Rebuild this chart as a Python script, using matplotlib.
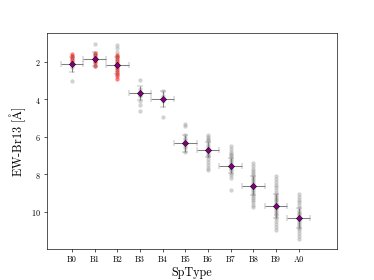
import numpy as np
import matplotlib
matplotlib.use('Agg')
import matplotlib.pyplot as plt

plt.rcParams['font.family'] = ['cmr10', 'DejaVu Serif']
plt.rcParams['mathtext.fontset'] = 'cm'
plt.rcParams['axes.formatter.use_mathtext'] = True

sptypes = ['B0', 'B1', 'B2', 'B3', 'B4', 'B5', 'B6', 'B7', 'B8', 'B9', 'A0']

# individual measurements per spectral type (grey)
ew_grey = [
    [1.75, 2.3, 3.0],
    [1.05, 1.6, 2.2],
    [1.1, 1.25, 1.5, 1.7],
    [2.95, 3.45, 3.6, 3.75, 3.85, 4.1, 4.3, 4.6],
    [3.55, 3.8, 4.1, 4.95],
    [5.3, 5.45, 5.9, 6.05, 6.2, 6.35, 6.5, 6.6, 6.8],
    [5.9, 6.0, 6.1, 6.2, 6.3, 6.45, 6.55, 6.65, 6.75, 6.85, 6.95, 7.05, 7.2, 7.35, 7.5, 7.65, 7.8],
    [6.5, 6.65, 6.8, 6.9, 7.0, 7.1, 7.2, 7.3, 7.4, 7.5, 7.6, 7.7, 7.8, 7.95, 8.05, 8.2, 8.85],
    [7.4, 7.55, 7.7, 7.85, 7.95, 8.05, 8.15, 8.25, 8.35, 8.45, 8.55, 8.65, 8.75, 8.85, 8.95,
     9.05, 9.15, 9.25, 9.35, 9.5, 9.65, 9.75],
    [8.1, 8.25, 8.4, 8.55, 8.7, 8.85, 9.0, 9.1, 9.2, 9.3, 9.4, 9.5, 9.6, 9.7, 9.8, 9.9,
     10.0, 10.1, 10.2, 10.35, 10.5, 10.65, 10.8, 11.0],
    [9.05, 9.2, 9.35, 9.5, 9.65, 9.8, 9.95, 10.05, 10.15, 10.25, 10.35, 10.45, 10.55,
     10.65, 10.75, 10.85, 11.0, 11.15, 11.3, 11.45],
]

# highlighted measurements (red), only early types
ew_red = [
    [1.6, 1.7, 1.8, 1.9, 2.0],
    [1.55, 1.65, 1.75, 1.85, 1.95, 2.05, 2.2],
    [1.65, 1.75, 1.85, 1.95, 2.05, 2.15, 2.25, 2.35, 2.45, 2.55, 2.65, 2.75, 2.9],
]

ew_mean = [2.14, 1.87, 2.18, 3.68, 3.98, 6.34, 6.70, 7.55, 8.61, 9.71, 10.33]
ew_std = [0.42, 0.38, 0.45, 0.38, 0.42, 0.45, 0.4, 0.4, 0.5, 0.65, 0.55]
sp_err = [0.5] * 11

fig, ax = plt.subplots(figsize=(6.4, 4.8), dpi=58.44)

for i, vals in enumerate(ew_grey):
    ax.scatter([i] * len(vals), vals, s=28, color='gray', alpha=0.35, linewidths=0, zorder=1)
for i, vals in enumerate(ew_red):
    ax.scatter([i] * len(vals), vals, s=28, color='red', alpha=0.5, linewidths=0, zorder=1)

x = np.arange(len(sptypes))
ax.errorbar(x, ew_mean, xerr=sp_err, yerr=ew_std, fmt='D', ms=5.5, mfc='purple', mec='black',
            mew=0.6, ecolor='gray', elinewidth=1.3, capsize=4, zorder=3)

ax.set_xticks(x)
ax.set_xticklabels(sptypes)
ax.set_yticks([2, 4, 6, 8, 10])
ax.tick_params(labelsize=10)
ax.set_xlim(-1.12, 11.68)
ax.set_ylim(12.0, 0.47)
ax.set_xlabel('SpType', fontsize=15)
ax.set_ylabel(r'EW-Br13 [$\mathrm{\AA}$]', fontsize=15)

fig.savefig('out.png')
